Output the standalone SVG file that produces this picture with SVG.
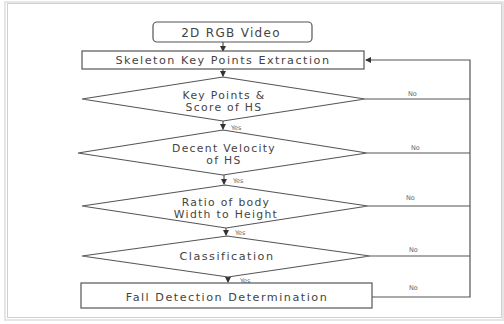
<svg xmlns="http://www.w3.org/2000/svg" width="504" height="324" viewBox="0 0 504 324">
<defs>
<marker id="ah" markerWidth="6" markerHeight="6" refX="5" refY="3" orient="auto" markerUnits="userSpaceOnUse">
<path d="M0,0 L6,3 L0,6 Z" fill="#333"/>
</marker>
<style>
.node{fill:#fff;stroke:#555;stroke-width:1.2}
.t{font-family:"DejaVu Sans","Noto Sans",sans-serif;font-size:10.8px;letter-spacing:1.3px;fill:#444;text-anchor:middle}
.w{font-size:11.2px;letter-spacing:1.5px}
.s{font-family:"DejaVu Sans","Noto Sans",sans-serif;font-size:6.5px;fill:#666}
.c{fill:none;stroke:#555;stroke-width:1.2}
</style>
</defs>
<rect x="0" y="0" width="504" height="324" fill="#fff"/>
<rect x="5" y="2" width="498" height="318" fill="none" stroke="#e6e6e6" stroke-width="2"/>
<rect x="7.5" y="3.5" width="494" height="314" fill="#fff" stroke="#d0d0d0" stroke-width="1"/>
<g id="connectors">
<line class="c" x1="223" y1="42" x2="223" y2="51" marker-end="url(#ah)"/>
<line class="c" x1="223" y1="69" x2="223" y2="76" marker-end="url(#ah)"/>
<line class="c" x1="223" y1="121" x2="223" y2="129" marker-end="url(#ah)"/>
<line class="c" x1="224" y1="175" x2="224" y2="184" marker-end="url(#ah)"/>
<line class="c" x1="226" y1="228" x2="226" y2="235" marker-end="url(#ah)"/>
<line class="c" x1="228" y1="277" x2="228" y2="282" marker-end="url(#ah)"/>
<polyline class="c" points="365,99 470,99"/>
<polyline class="c" points="367,153 470,153"/>
<polyline class="c" points="368,206 470,206"/>
<polyline class="c" points="370,256 470,256"/>
<polyline class="c" points="372,297 470,297 470,60 366,60" marker-end="url(#ah)"/>
<text class="s" x="231" y="130">Yes</text>
<text class="s" x="233" y="183">Yes</text>
<text class="s" x="235" y="235">Yes</text>
<text class="s" x="240" y="283">Yes</text>
<text class="s" x="408" y="96">No</text>
<text class="s" x="411" y="150">No</text>
<text class="s" x="406" y="200">No</text>
<text class="s" x="409" y="252">No</text>
<text class="s" x="409" y="290">No</text>
</g>
<g id="video">
<rect class="node" x="153" y="22" width="159" height="20" rx="4"/>
<text class="t" x="231" y="36.5" style="font-size:12px">2D RGB Video</text>
</g>
<g id="skeleton">
<rect class="node" x="82" y="51" width="282" height="18"/>
<text class="t w" x="223" y="64">Skeleton Key Points Extraction</text>
</g>
<g id="d1">
<polygon class="node" points="223,77 365,99 223,121 82,99"/>
<text class="t" x="224" y="98.5">Key Points &amp;</text>
<text class="t" x="224" y="111">Score of HS</text>
</g>
<g id="d2">
<polygon class="node" points="223,130 367,153 223,175 78,153"/>
<text class="t" x="224" y="151.5">Decent Velocity</text>
<text class="t" x="224" y="163.5">of HS</text>
</g>
<g id="d3">
<polygon class="node" points="225,185 368,206 226,228 82,206"/>
<text class="t" x="226" y="205.5">Ratio of body</text>
<text class="t" x="226" y="217.5">Width to Height</text>
</g>
<g id="d4">
<polygon class="node" points="227,236 370,256 228,277 82,256"/>
<text class="t w" x="227" y="260">Classification</text>
</g>
<g id="fall">
<rect class="node" x="81" y="283" width="291" height="25"/>
<text class="t w" x="227" y="300.5">Fall Detection Determination</text>
</g>
</svg>
